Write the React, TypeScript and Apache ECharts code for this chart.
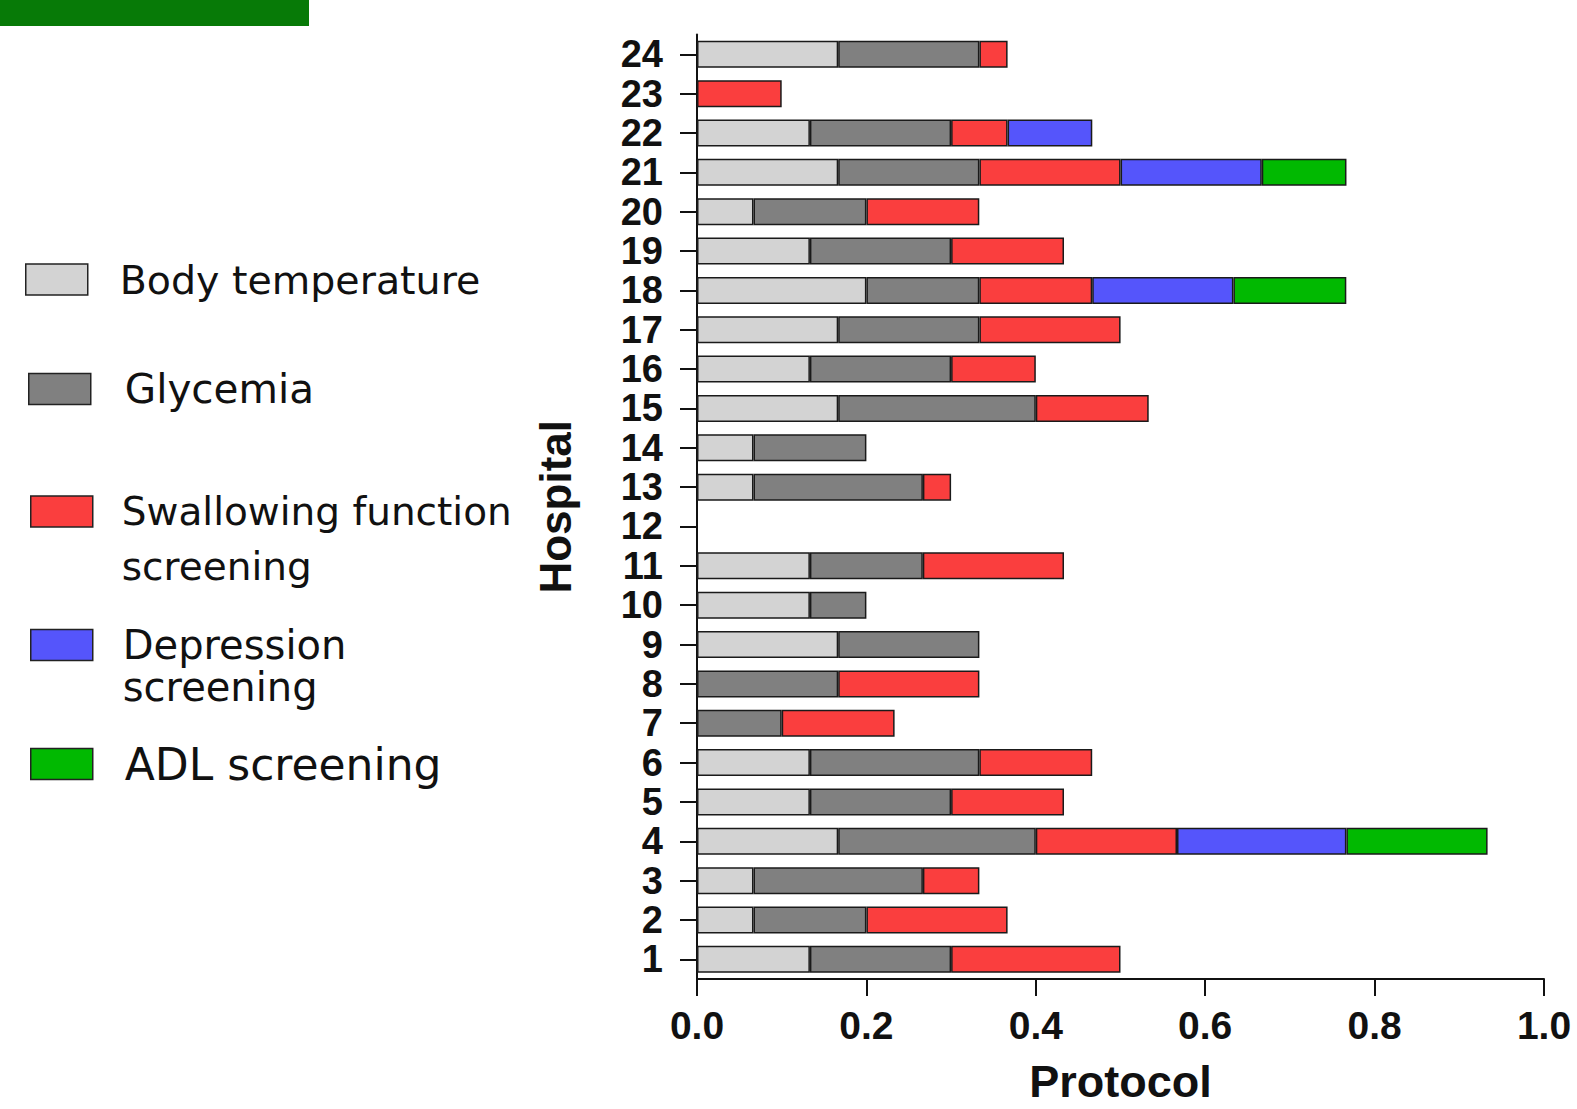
import React, { useEffect, useRef } from "react";
import * as echarts from "echarts";

const hospitals = ["1","2","3","4","5","6","7","8","9","10","11","12","13","14","15","16","17","18","19","20","21","22","23","24"];
const xTicks = [0, 0.2, 0.4, 0.6, 0.8, 1.0];

const bodyTemp = [0.1333, 0.0667, 0.0667, 0.1667, 0.1333, 0.1333, 0, 0, 0.1667, 0.1333, 0.1333, 0, 0.0667, 0.0667, 0.1667, 0.1333, 0.1667, 0.2, 0.1333, 0.0667, 0.1667, 0.1333, 0, 0.1667];
const glycemia = [0.1667, 0.1333, 0.2, 0.2333, 0.1667, 0.2, 0.1, 0.1667, 0.1667, 0.0667, 0.1333, 0, 0.2, 0.1333, 0.2333, 0.1667, 0.1667, 0.1333, 0.1667, 0.1333, 0.1667, 0.1667, 0, 0.1667];
const swallowing = [0.2, 0.1667, 0.0667, 0.1667, 0.1333, 0.1333, 0.1333, 0.1667, 0, 0, 0.1667, 0, 0.0333, 0, 0.1333, 0.1, 0.1667, 0.1333, 0.1333, 0.1333, 0.1667, 0.0667, 0.1, 0.0333];
const depression = [0, 0, 0, 0.2, 0, 0, 0, 0, 0, 0, 0, 0, 0, 0, 0, 0, 0, 0.1667, 0, 0, 0.1667, 0.1, 0, 0];
const adl = [0, 0, 0, 0.1667, 0, 0, 0, 0, 0, 0, 0, 0, 0, 0, 0, 0, 0, 0.1333, 0, 0, 0.1, 0, 0, 0];

const seriesNames = ["Body temperature", "Glycemia", "Swallowing function screening", "Depression screening", "ADL screening"];
const seriesColors = ["#d3d3d3", "#808080", "#fa3e3e", "#5555fb", "#01b901"];
const seriesData = [bodyTemp, glycemia, swallowing, depression, adl];

export default function App() {
  const ref = useRef<HTMLDivElement>(null);
  useEffect(() => {
    if (!ref.current) return;
    const chart = echarts.init(ref.current, undefined, { renderer: "svg" });
    const legendBase = {
      orient: "vertical",
      padding: 0,
      icon: "rect",
      itemWidth: 62,
      itemHeight: 31,
      selectedMode: false,
      itemStyle: { borderColor: "#222", borderWidth: 1.5 },
    };
    const legendDefs = [
      { name: seriesNames[0], left: 25, top: 257.5, size: 39.5, lh: 44, fmt: "Body temperature", padL: 27 },
      { name: seriesNames[1], left: 28, top: 367, size: 40.5, lh: 44, fmt: "Glycemia", padL: 29 },
      { name: seriesNames[2], left: 30, top: 429, size: 39, lh: 55, fmt: "\nSwallowing function\nscreening", padL: 24 },
      { name: seriesNames[3], left: 30, top: 582, size: 40, lh: 42, fmt: "\nDepression\nscreening", padL: 25 },
      { name: seriesNames[4], left: 30, top: 741, size: 44, lh: 46, fmt: "ADL screening", padL: 27 },
    ];
    const option: any = {
      animation: false,
      backgroundColor: "#ffffff",
      grid: { left: 697, right: 33, top: 34.6, bottom: 117 },
      legend: legendDefs.map((d) => ({
        ...legendBase,
        left: d.left,
        top: d.top,
        data: [d.name],
        formatter: () => d.fmt,
        textStyle: {
          fontFamily: "DejaVu Sans",
          fontSize: d.size,
          lineHeight: d.lh,
          color: "#111",
          padding: [0, 0, 0, d.padL],
        },
      })),
      graphic: [
        { type: "rect", left: 0, top: 0, shape: { width: 309, height: 26 }, style: { fill: "#077a07" } },
      ],
      xAxis: {
        type: "value",
        min: 0,
        max: 1,
        interval: 0.2,
        name: "Protocol",
        nameLocation: "middle",
        nameGap: 80,
        nameTextStyle: { fontFamily: "Liberation Sans", fontWeight: "bold", fontSize: 45, color: "#111" },
        axisLine: { show: true, lineStyle: { color: "#111", width: 2 } },
        axisTick: { show: true, length: 17, lineStyle: { color: "#111", width: 2 } },
        axisLabel: {
          margin: 27,
          fontFamily: "Liberation Sans",
          fontWeight: "bold",
          fontSize: 39,
          color: "#111",
          formatter: (v: number) => (xTicks.includes(v) ? v.toFixed(1) : ""),
        },
        splitLine: { show: false },
      },
      yAxis: {
        type: "category",
        data: hospitals,
        name: "Hospital",
        nameLocation: "middle",
        nameGap: 120,
        nameTextStyle: { fontFamily: "Liberation Sans", fontWeight: "bold", fontSize: 44, color: "#111" },
        axisLine: { show: true, lineStyle: { color: "#111", width: 2 } },
        axisTick: { show: true, alignWithLabel: true, interval: 0, length: 17, lineStyle: { color: "#111", width: 2 } },
        axisLabel: {
          interval: 0,
          margin: 34,
          fontFamily: "Liberation Sans",
          fontWeight: "bold",
          fontSize: 38,
          color: "#111",
        },
        splitLine: { show: false },
      },
      series: seriesNames.map((name, i) => ({
        name,
        type: "bar",
        stack: "total",
        barWidth: 27,
        itemStyle: { color: seriesColors[i], borderColor: "#1a1a1a", borderWidth: 1.5 },
        data: seriesData[i].map((v) => (v === 0 ? "-" : v)),
      })),
    };
    chart.setOption(option);
    return () => chart.dispose();
  }, []);
  return (
    <div
      ref={ref}
      style={{ position: "fixed", left: 0, top: 0, width: 1577, height: 1109, background: "#fff" }}
    />
  );
}
